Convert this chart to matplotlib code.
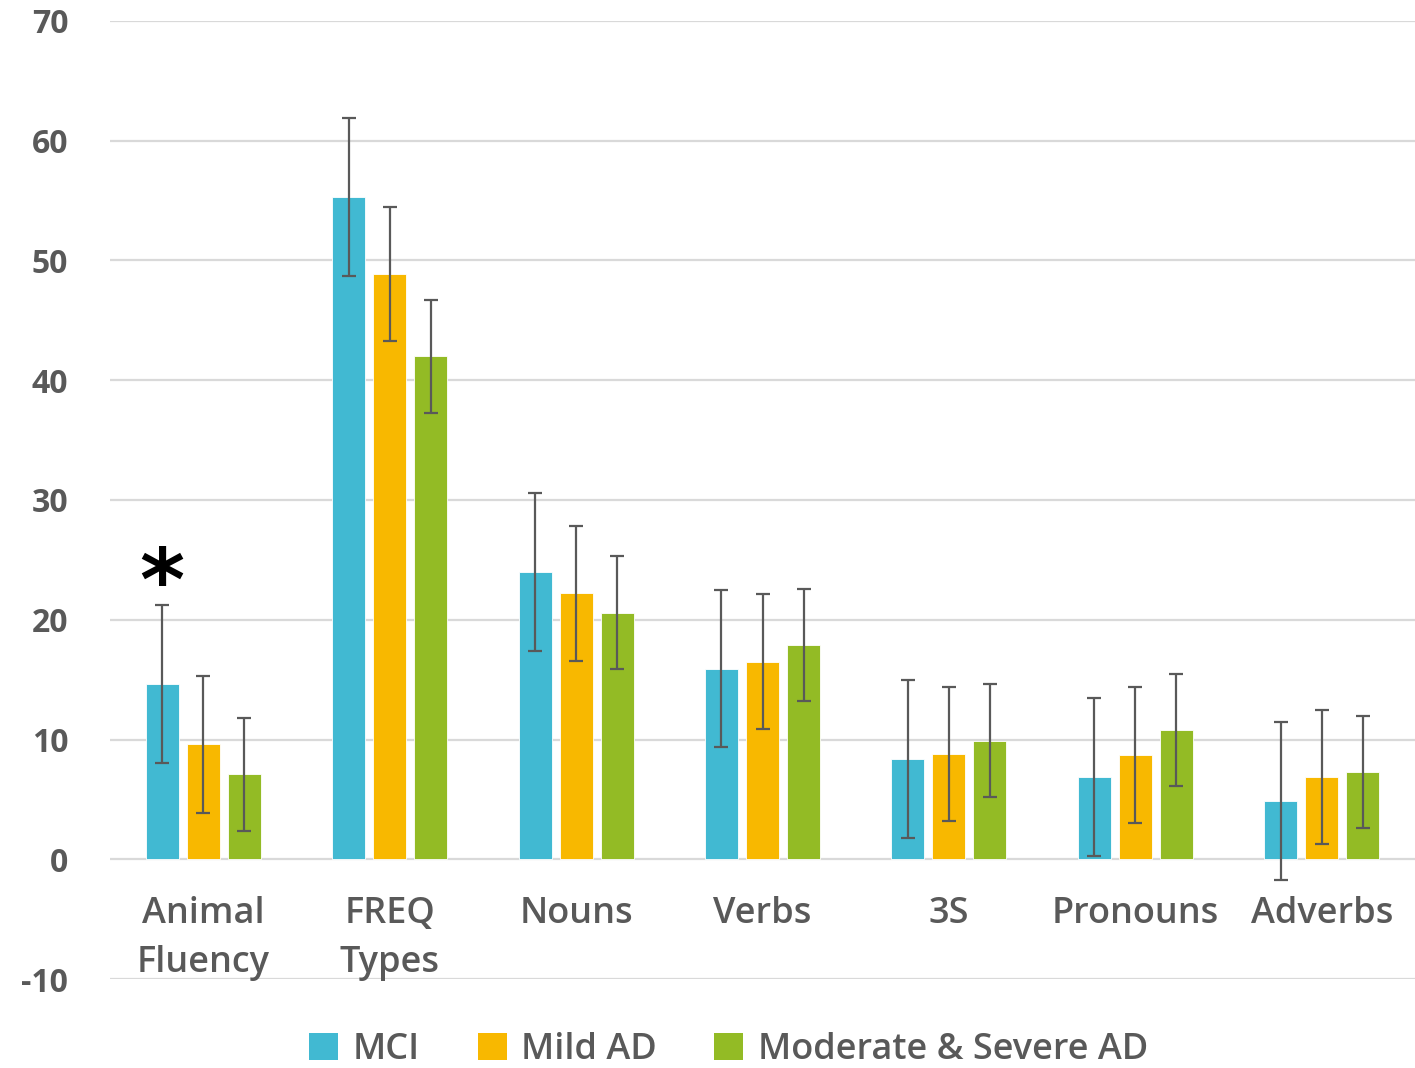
import matplotlib
matplotlib.use("Agg")
import matplotlib.pyplot as plt
import numpy as np
from matplotlib.patches import Patch

categories = ["Animal\nFluency", "FREQ\nTypes", "Nouns", "Verbs", "3S", "Pronouns", "Adverbs"]
series = ["MCI", "Mild AD", "Moderate & Severe AD"]
mci = [14.6, 55.3, 24.0, 15.9, 8.4, 6.85, 4.9]
mild = [9.6, 48.9, 22.2, 16.5, 8.8, 8.7, 6.85]
moderate = [7.1, 42.0, 20.6, 17.9, 9.9, 10.8, 7.3]
mci_sd = [6.6, 6.6, 6.6, 6.55, 6.6, 6.6, 6.6]
mild_sd = [5.7, 5.6, 5.65, 5.65, 5.6, 5.65, 5.6]
moderate_sd = [4.7, 4.7, 4.7, 4.65, 4.7, 4.7, 4.65]
yticks = [-10, 0, 10, 20, 30, 40, 50, 60, 70]
colors = ["#41B9D2", "#F8B800", "#93BB25"]

plt.rcParams['font.family'] = ['Open Sans', 'DejaVu Sans']
text_color = "#595959"

fig = plt.figure(figsize=(14.15, 10.68), dpi=100)
ax = fig.add_axes([110/1415, 1-979/1068, 1-110/1415, (979-21)/1068])

x = np.arange(len(categories))
width = 0.177
offset = 0.22
vals = [mci, mild, moderate]
sds = [mci_sd, mild_sd, moderate_sd]
for i, (v, s, c, name) in enumerate(zip(vals, sds, colors, series)):
    ax.bar(x + (i - 1) * offset, v, width, color=c, label=name, zorder=2,
           edgecolor="white", linewidth=0.6)
    ax.errorbar(x + (i - 1) * offset, v, yerr=s, fmt='none', ecolor="#595959",
                elinewidth=1.6, capsize=5, capthick=1.6, zorder=3)

ax.set_xlim(-0.5, len(categories) - 0.5)
ax.set_ylim(-10, 70)
ax.set_yticks(yticks)
ax.set_yticklabels([str(t) for t in yticks], fontsize=23, fontweight='bold', color=text_color)
ax.tick_params(axis='y', length=0, pad=30)
ax.set_xticks([])
ax.yaxis.grid(True, color="#D9D9D9", linewidth=1.6, zorder=0)
ax.set_axisbelow(True)
for sp in ax.spines.values():
    sp.set_visible(False)

for xi, cat in zip(x, categories):
    ax.text(xi, -3.1, cat, ha='center', va='top', fontsize=26, fontweight='semibold',
            color=text_color, linespacing=1.45)

# significance marker
ax.text(x[0] - offset, mci[0] + mci_sd[0] - 1.9, "*", ha='center', va='bottom',
        fontsize=62, fontweight='bold', color='black', family='DejaVu Sans')

handles = [Patch(facecolor=c, label=n) for c, n in zip(colors, series)]
leg = fig.legend(handles=handles, loc='center', bbox_to_anchor=(0.515, 1-1050/1068), ncol=3,
                 frameon=False, fontsize=26, handlelength=0.8, handleheight=0.8,
                 handletextpad=0.4, columnspacing=1.6)
for t in leg.get_texts():
    t.set_color(text_color)
    t.set_fontweight('semibold')

fig.savefig("out.png", dpi=100)
